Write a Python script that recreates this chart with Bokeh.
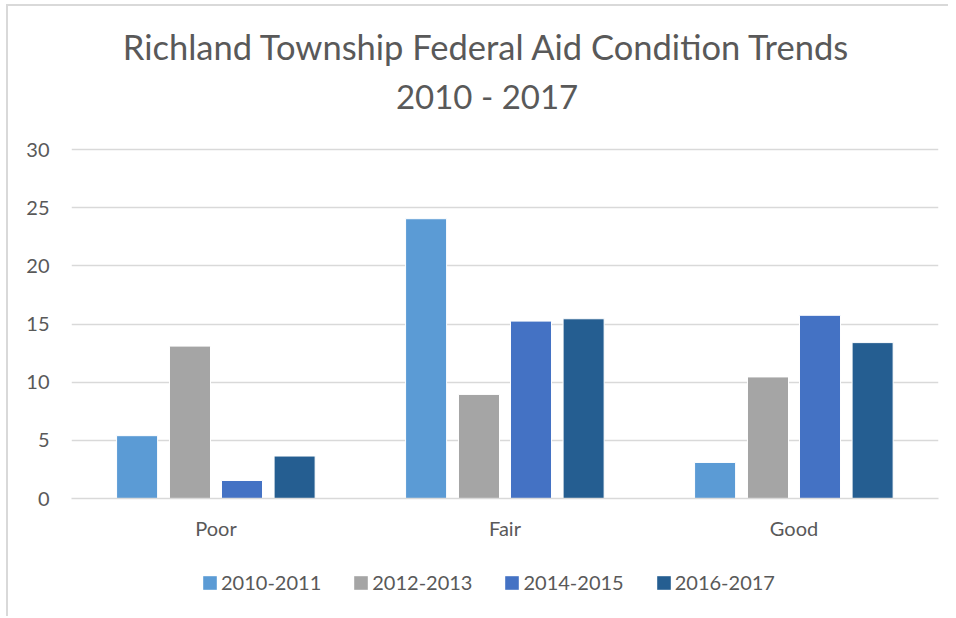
from bokeh.plotting import figure
from bokeh.layouts import column
from bokeh.models import (ColumnDataSource, FactorRange, Range1d, Legend, LegendItem,
                          Label, FixedTicker)
from bokeh.transform import dodge
from bokeh.embed import file_html
from bokeh.resources import INLINE

# ---- data ----
categories = ["Poor", "Fair", "Good"]
series_names = ["2010-2011", "2012-2013", "2014-2015", "2016-2017"]
v_2010_2011 = [5.4, 24.05, 3.1]
v_2012_2013 = [13.1, 8.95, 10.45]
v_2014_2015 = [1.55, 15.25, 15.75]
v_2016_2017 = [3.65, 15.45, 13.4]
colors = ["#5B9BD5", "#A5A5A5", "#4472C4", "#255E91"]
y_ticks = [0, 5, 10, 15, 20, 25, 30]
title_line1 = "Richland Township Federal Aid Condition Trends"
title_line2 = "2010 - 2017"

FONT = "Lato"
TXT = "#595959"
GRID = "#D9D9D9"

source = ColumnDataSource(dict(cat=categories, s0=v_2010_2011, s1=v_2012_2013,
                               s2=v_2014_2015, s3=v_2016_2017))

# main chart: frame also spans the title area (y above 30); gridlines only at ticks
p = figure(width=940, height=542, output_backend="svg", toolbar_location=None,
           x_range=FactorRange(*categories, range_padding=0),
           y_range=Range1d(0, 41.95),
           min_border_left=63, min_border_right=10, min_border_top=4,
           min_border_bottom=50)
p.outline_line_color = None
p.background_fill_color = "white"
p.border_fill_color = "white"

offsets = [-0.273, -0.09, 0.09, 0.272]
cols = ["s0", "s1", "s2", "s3"]
for off, col, c in zip(offsets, cols, colors):
    p.vbar(x=dodge("cat", off, range=p.x_range), top=col, width=0.142,
           source=source, fill_color=c, line_color="white", line_width=1)

p.yaxis.ticker = FixedTicker(ticks=y_ticks)
p.yaxis.axis_line_color = None
p.yaxis.major_tick_line_color = None
p.yaxis.minor_tick_line_color = None
p.yaxis.major_label_standoff = 16
p.yaxis.major_label_text_font = FONT
p.yaxis.major_label_text_font_size = "20px"
p.yaxis.major_label_text_color = TXT

p.xaxis.axis_line_color = GRID
p.xaxis.axis_line_width = 1.5
p.xaxis.major_tick_line_color = None
p.xaxis.minor_tick_line_color = None
p.xaxis.major_label_standoff = 11
p.xaxis.major_label_text_font = FONT
p.xaxis.major_label_text_font_size = "20px"
p.xaxis.major_label_text_color = TXT

p.xgrid.grid_line_color = None
p.ygrid.grid_line_color = GRID
p.ygrid.grid_line_width = 1.5

p.add_layout(Label(x=1.438, y=38.85, text=title_line1, text_align="center",
                   text_baseline="middle", text_font=FONT, text_font_size="34.5px",
                   text_color=TXT))
p.add_layout(Label(x=1.438, y=34.64, text=title_line2, text_align="center",
                   text_baseline="middle", text_font=FONT, text_font_size="33px",
                   text_color=TXT))

# legend strip below the chart (proxy bars lie outside its visible range)
lg = figure(width=940, height=68, output_backend="svg", toolbar_location=None,
            x_axis_type=None, y_axis_type=None,
            min_border_left=63, min_border_right=10, min_border_top=0, min_border_bottom=0,
            x_range=Range1d(0, 1), y_range=Range1d(0, 1))
lg.outline_line_color = None
lg.background_fill_color = "white"
lg.border_fill_color = "white"
lg.grid.grid_line_color = None
proxy = ColumnDataSource(dict(x=[-10.0], top=[-5.0], bottom=[-6.0]))
lg_renderers = [lg.vbar(x="x", top="top", bottom="bottom", width=0.1, source=proxy,
                        fill_color=c, line_color=None) for c in colors]
legend = Legend(items=[LegendItem(label=n, renderers=[r]) for n, r in zip(series_names, lg_renderers)],
                orientation="horizontal", location=(130, 22),
                glyph_width=17, glyph_height=17, label_standoff=3, spacing=31,
                padding=0, margin=0, border_line_color=None, background_fill_alpha=0,
                label_text_font=FONT, label_text_font_size="20px", label_text_color=TXT,
                label_height=20)
lg.add_layout(legend, "center")

page = column(p, lg, spacing=0,
              styles={"margin-left": "6px", "margin-top": "4px",
                      "border-left": "2px solid #D9D9D9", "border-top": "2px solid #D9D9D9"})

open("out.html", "w").write(file_html(page, INLINE))
